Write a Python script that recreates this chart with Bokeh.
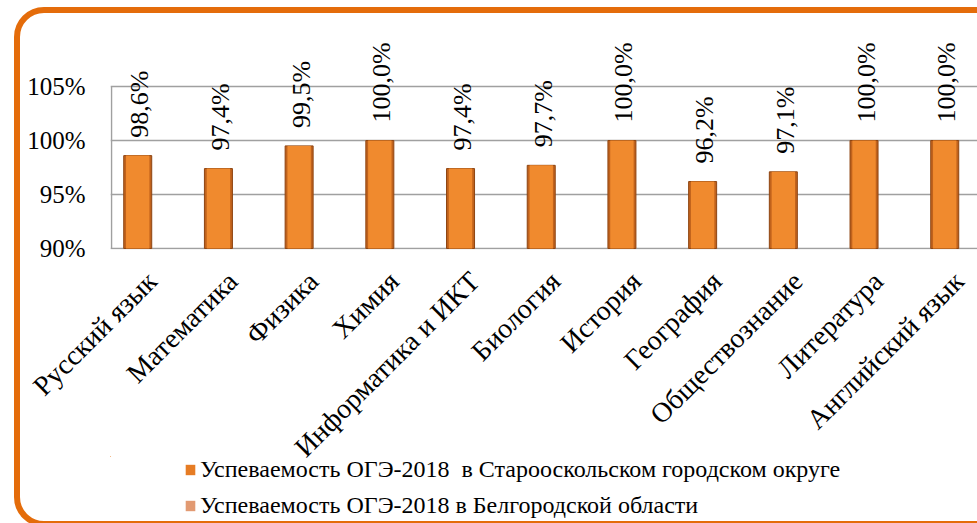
from math import pi
from bokeh.plotting import figure
from bokeh.layouts import column
from bokeh.models import (ColumnDataSource, FixedTicker, PrintfTickFormatter, Range1d,
                          LabelSet, Legend, LegendItem, InlineStyleSheet)
from bokeh.embed import file_html
from bokeh.resources import INLINE

nan = float("nan")

# ---- data ----
subjects = ["Русский язык", "Математика", "Физика", "Химия", "Информатика и ИКТ",
            "Биология", "История", "География", "Обществознание", "Литература",
            "Английский язык"]
oskol = [98.6, 97.4, 99.5, 100.0, 97.4, 97.7, 100.0, 96.2, 97.1, 100.0, 100.0]
# the regional series has no bar shown in the picture
belgorod = [nan, nan, nan, nan, nan, nan, nan, nan, nan, nan, nan]
series_names = ["Успеваемость ОГЭ-2018  в Старооскольском городском округе",
                "Успеваемость ОГЭ-2018 в Белгородской области"]
y_ticks = [90, 95, 100, 105]

FONT = "Liberation Serif"
GRID = "#A0A0A0"
C1_EDGE, C1_FILL, C1_LINE = "#C0621C", "#F08A2E", "#8E4512"
C2_FILL, C2_LINE = "#EDA57C", "#B77B57"

n = len(subjects)
labels = [f"{v:.1f}%".replace(".", ",") for v in oskol]
src1 = ColumnDataSource(dict(x=[i + 0.325 for i in range(n)], top=oskol, label=labels))
src2 = ColumnDataSource(dict(x=[i + 0.675 for i in range(n)], top=belgorod))

# ---------------- main chart ----------------
p = figure(width=977, height=523, output_backend="svg", toolbar_location=None,
           x_range=Range1d(-0.0124, 10.731), y_range=Range1d(89.907, 110.185),
           min_border_left=110, min_border_top=30, min_border_right=0,
           min_border_bottom=274)

p.segment(x0=[0], y0=[y_ticks[0]], x1=[0], y1=[y_ticks[-1]], line_color=GRID, line_width=1.5)

# bevelled bars: darker body with a lighter inner face
p.vbar(x="x", top="top", bottom=y_ticks[0], width=0.347, source=src1,
       fill_color=C1_EDGE, line_color=C1_LINE, line_width=1)
p.vbar(x="x", top="top", bottom=y_ticks[0], width=0.29, source=src1,
       fill_color=C1_FILL, line_color=None)
p.vbar(x="x", top="top", bottom=y_ticks[0], width=0.347, source=src2,
       fill_color=C2_FILL, line_color=C2_LINE, line_width=1)

p.add_layout(LabelSet(x="x", y="top", text="label", source=src1, angle=pi / 2,
                      text_align="left", text_baseline="middle", x_offset=2, y_offset=18,
                      text_font=FONT, text_font_size="26px", text_color="black"))

p.xaxis.ticker = FixedTicker(ticks=[i + 0.5 for i in range(n)])
p.xaxis.major_label_overrides = {i + 0.5: s for i, s in enumerate(subjects)}
p.xaxis.major_label_orientation = pi / 4
p.xaxis.major_label_text_font = FONT
p.xaxis.major_label_text_font_size = "28px"
p.xaxis.major_label_standoff = 21
p.yaxis.ticker = FixedTicker(ticks=y_ticks)
p.yaxis.formatter = PrintfTickFormatter(format="%d%%")
p.yaxis.major_label_text_font = FONT
p.yaxis.major_label_text_font_size = "25px"
p.yaxis.major_label_standoff = 19
for ax in (p.xaxis, p.yaxis):
    ax.axis_line_color = None
    ax.major_tick_line_color = None
    ax.minor_tick_line_color = None
    ax.major_label_text_color = "black"

p.xgrid.grid_line_color = None
p.ygrid.ticker = FixedTicker(ticks=y_ticks)
p.ygrid.grid_line_color = GRID
p.ygrid.grid_line_width = 1.5
p.outline_line_color = None
p.background_fill_color = "white"
p.border_fill_color = "white"

# ---------------- legend strip (overlaid on the bottom of the chart) ----------------
q = figure(width=977, height=67, output_backend="svg", toolbar_location=None,
           x_axis_type=None, y_axis_type=None, x_range=Range1d(100, 101),
           y_range=Range1d(0, 1),
           min_border_left=110, min_border_top=0, min_border_right=0, min_border_bottom=0,
           styles={"position": "absolute", "top": "456px", "left": "0px"})
q.grid.visible = False
q.outline_line_color = None
q.background_fill_alpha = 0
q.border_fill_alpha = 0
# same series in the strip, outside its visible range, only to supply legend swatches
e1 = q.vbar(x="x", top="top", bottom=y_ticks[0], width=0.347, source=src1,
            fill_color="#E67C24", line_color=None)
e2 = q.vbar(x="x", top="top", bottom=y_ticks[0], width=0.347, source=src2,
            fill_color="#E29A72", line_color=None)
legend = Legend(items=[LegendItem(label=series_names[0], renderers=[e1]),
                       LegendItem(label=series_names[1], renderers=[e2])],
                location=(74, 4), orientation="vertical",
                glyph_width=12, glyph_height=13, label_standoff=4, spacing=9,
                padding=0, margin=0, border_line_color=None, background_fill_alpha=0,
                label_text_font=FONT, label_text_font_size="24px", label_height=27,
                label_text_color="black")
q.add_layout(legend)

layout = column(p, q, spacing=0)
css = """
:host::after {
  content: ""; position: fixed; left: 14px; top: 7px;
  width: 1200px; height: 520px; box-sizing: border-box;
  border: 6px solid #E46C0A; border-radius: 30px; pointer-events: none;
}
"""
layout.stylesheets = [InlineStyleSheet(css=css)]

open("out.html", "w").write(file_html(layout, INLINE))
